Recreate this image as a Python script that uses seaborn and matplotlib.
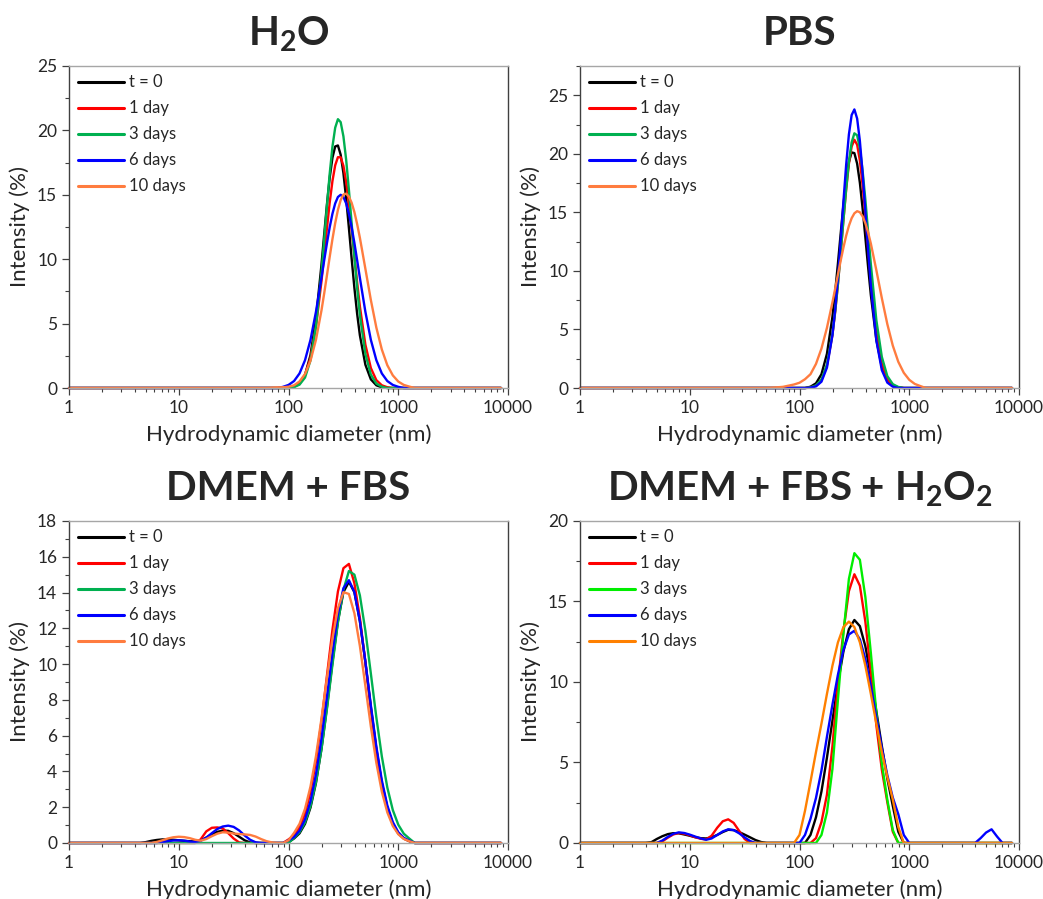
import numpy as np
import pandas as pd
import seaborn as sns
import matplotlib.pyplot as plt
from matplotlib.ticker import MultipleLocator, LogLocator, NullFormatter

sns.set_style('ticks')
plt.rcParams['font.family'] = ['Lato', 'DejaVu Sans']
plt.rcParams['mathtext.fontset'] = 'custom'
plt.rcParams['mathtext.rm'] = 'Lato'
plt.rcParams['mathtext.bf'] = 'Lato:bold'

# DLS size distributions, intensity (%)
time_labels = ['t = 0', '1 day', '3 days', '6 days', '10 days']

# diameter grid (nm) for water / PBS (finer around the peak)
size_top = [1.0, 50.1, 56.2, 63.1, 70.8, 79.4, 89.1, 100, 112.2, 125.9, 141.3, 158.5,
            177.8, 199.5, 211.3, 223.9, 237.1, 251.2, 266.1, 281.8, 298.5, 316.2, 335.0,
            354.8, 375.8, 398.1, 421.7, 446.7, 501.2, 562.3, 631.0, 707.9, 794.3, 891.3,
            1000, 1122, 1259, 1413, 8635]

h2o_t0 = [0, 0, 0, 0, 0, 0, 0, 0, 0.1, 0.34, 1.02, 2.56, 5.40, 9.57,
          11.94, 14.27, 16.32, 17.88, 18.75, 18.83, 18.11, 16.68, 14.70, 12.42, 10.04, 7.77, 5.76,
          4.09, 1.81, 0.67, 0.21, 0.05, 0, 0, 0, 0, 0, 0, 0]
h2o_1d = [0, 0, 0, 0, 0, 0, 0, 0, 0.12, 0.37, 1.01, 2.36, 4.76, 8.28,
          10.33, 12.42, 14.39, 16.07, 17.29, 17.92, 17.91, 17.25, 16.00, 14.31, 12.34, 10.25, 8.20,
          6.33, 3.37, 1.55, 0.61, 0.21, 0.06, 0, 0, 0, 0, 0, 0]
h2o_3d = [0, 0, 0, 0, 0, 0, 0, 0, 0.07, 0.26, 0.81, 2.15, 4.79, 8.98,
          11.52, 14.15, 16.64, 18.74, 20.21, 20.87, 20.64, 19.54, 17.71, 15.38, 12.78, 10.17, 7.75,
          5.66, 2.65, 1.04, 0.34, 0.10, 0, 0, 0, 0, 0, 0, 0]
h2o_6d = [0, 0, 0, 0, 0, 0, 0.09, 0.24, 0.54, 1.13, 2.16, 3.74, 5.92, 8.55,
          9.92, 11.26, 12.48, 13.53, 14.33, 14.83, 15.0, 14.83, 14.33, 13.53, 12.48, 11.26, 9.92,
          8.55, 5.92, 3.74, 2.16, 1.13, 0.54, 0.24, 0.09, 0, 0, 0, 0]
h2o_10d = [0, 0, 0, 0, 0.03, 0.05, 0.06, 0.1, 0.21, 0.51, 1.09, 2.12, 3.75, 6.02,
           7.35, 8.76, 10.18, 11.56, 12.80, 13.83, 14.59, 15.02, 15.09, 14.86, 14.38, 13.66, 12.73,
           11.66, 9.26, 6.83, 4.69, 2.99, 1.77, 0.98, 0.50, 0.24, 0.11, 0, 0]

pbs_t0 = [0, 0, 0, 0, 0, 0, 0, 0, 0, 0.11, 0.40, 1.18, 2.92, 6.08,
          8.21, 10.63, 13.17, 15.62, 17.75, 19.31, 20.12, 20.06, 19.16, 17.53, 15.34, 12.86, 10.33,
          7.94, 4.12, 1.80, 0.66, 0.20, 0.05, 0, 0, 0, 0, 0, 0]
pbs_1d = [0, 0, 0, 0, 0, 0, 0, 0, 0, 0.05, 0.20, 0.67, 1.92, 4.53,
          6.49, 8.85, 11.52, 14.31, 16.94, 19.14, 20.62, 21.20, 20.78, 19.43, 17.33, 14.75, 11.96,
          9.26, 4.81, 2.07, 0.74, 0.22, 0.05, 0, 0, 0, 0, 0, 0]
pbs_3d = [0, 0, 0, 0, 0, 0, 0, 0, 0, 0.05, 0.22, 0.72, 2.00, 4.61,
          6.55, 8.90, 11.55, 14.34, 17.02, 19.31, 20.97, 21.75, 21.58, 20.46, 18.55, 16.09, 13.33,
          10.57, 5.80, 2.66, 1.02, 0.33, 0.09, 0, 0, 0, 0, 0, 0]
pbs_6d = [0, 0, 0, 0, 0, 0, 0, 0, 0, 0.03, 0.14, 0.54, 1.74, 4.51,
          6.69, 9.43, 12.57, 15.90, 19.06, 21.65, 23.31, 23.79, 23.01, 21.10, 18.34, 15.10, 11.79,
          8.73, 4.07, 1.53, 0.46, 0.11, 0, 0, 0, 0, 0, 0, 0]
pbs_10d = [0, 0, 0.03, 0.06, 0.1, 0.2, 0.3, 0.45, 0.75, 1.18, 2.06, 3.37, 5.14, 7.31,
           8.48, 9.69, 10.87, 11.99, 13.0, 13.85, 14.50, 14.92, 15.10, 15.01, 14.66, 14.08, 13.29,
           12.33, 10.07, 7.68, 5.46, 3.62, 2.24, 1.30, 0.70, 0.35, 0.17, 0, 0]

# diameter grid (nm) for the culture media
size_fbs = [1.0, 3.98, 4.47, 5.01, 5.62, 6.31, 7.08, 7.94, 8.91, 10.0, 11.2, 12.6, 14.1,
            15.8, 17.8, 20.0, 22.4, 25.1, 28.2, 31.6, 35.5, 39.8, 44.7, 50.1, 56.2, 63.1,
            70.8, 79.4, 89.1, 100, 112.2, 125.9, 141.3, 158.5, 177.8, 199.5, 223.9, 251.2,
            281.8, 316.2, 354.8, 398.1, 446.7, 501.2, 562.3, 631.0, 707.9, 794.3, 891.3,
            1000, 1122, 1259, 1413, 8635]

fbs_t0 = [0, 0, 0, 0.05, 0.12, 0.17, 0.2, 0.2, 0.18, 0.15, 0.12, 0.10, 0.09, 0.15, 0.3,
          0.48, 0.62, 0.69, 0.68, 0.55, 0.35, 0.15, 0.03, 0, 0, 0, 0, 0, 0,
          0.05, 0.25, 0.54, 1.07, 1.98, 3.36, 5.26, 7.60, 10.11, 12.40, 14.02, 14.60, 14.02,
          12.40, 10.11, 7.60, 5.26, 3.36, 1.98, 1.07, 0.54, 0.25, 0.10, 0, 0]
fbs_1d = [0, 0, 0, 0, 0, 0, 0, 0, 0, 0, 0, 0, 0, 0.2, 0.65, 0.85, 0.87, 0.82, 0.55, 0.25,
          0.03, 0, 0, 0, 0, 0, 0, 0, 0,
          0.20, 0.43, 0.88, 1.64, 2.85, 4.57, 6.80, 9.36, 11.92, 14.06, 15.36, 15.6, 14.52,
          12.58, 10.09, 7.49, 5.15, 3.27, 1.93, 1.05, 0.53, 0.25, 0.11, 0, 0]
fbs_3d = [0, 0, 0, 0, 0, 0, 0, 0, 0, 0, 0, 0, 0, 0, 0, 0, 0, 0, 0, 0, 0, 0, 0, 0, 0, 0, 0,
          0, 0,
          0, 0.29, 0.60, 1.15, 2.06, 3.41, 5.24, 7.50, 9.96, 12.32, 14.15, 15.2, 15.00,
          13.84, 11.87, 9.47, 7.02, 4.84, 3.10, 1.84, 1.02, 0.52, 0.25, 0, 0]
fbs_6d = [0, 0, 0, 0, 0, 0, 0.05, 0.1, 0.14, 0.15, 0.13, 0.08, 0.06, 0.12, 0.3, 0.55, 0.78,
          0.92, 0.97, 0.9, 0.7, 0.42, 0.18, 0.04, 0, 0, 0, 0, 0,
          0.15, 0.33, 0.69, 1.32, 2.34, 3.84, 5.82, 8.17, 10.63, 12.79, 14.24, 14.69, 14.03,
          12.40, 10.15, 7.69, 5.39, 3.50, 2.10, 1.17, 0.60, 0.29, 0.13, 0, 0]
fbs_10d = [0, 0, 0, 0, 0, 0.06, 0.15, 0.25, 0.32, 0.35, 0.33, 0.27, 0.18, 0.13, 0.22, 0.38,
           0.52, 0.6, 0.58, 0.53, 0.5, 0.48, 0.45, 0.36, 0.22, 0.1, 0.03, 0, 0,
           0.15, 0.56, 1.07, 1.91, 3.16, 4.86, 6.95, 9.24, 11.42, 13.13, 14.02, 13.92, 12.84,
           11.01, 8.78, 6.51, 4.48, 2.87, 1.71, 0.95, 0.49, 0.23, 0.10, 0, 0]

# same grid plus the large-size range where one aggregate peak shows up
size_h2o2 = size_fbs[:-1] + [3548, 3981, 4467, 5012, 5623, 6310, 7079, 7943, 8635]

h2o2_t0 = [0, 0, 0.05, 0.25, 0.42, 0.55, 0.61, 0.6, 0.53, 0.45, 0.36, 0.3, 0.28, 0.35, 0.5,
           0.68, 0.82, 0.8, 0.68, 0.52, 0.35, 0.18, 0.06, 0, 0, 0, 0, 0, 0,
           0, 0, 0.5, 1.6, 3.2, 5.3, 7.6, 9.9, 11.89, 13.28, 13.85, 13.47, 12.22,
           10.35, 8.18, 6.03, 4.0, 2.3, 0.7, 0, 0, 0, 0, 0,
           0, 0, 0, 0, 0, 0, 0, 0, 0]
h2o2_1d = [0, 0, 0, 0, 0.1, 0.33, 0.53, 0.62, 0.58, 0.48, 0.36, 0.26, 0.22, 0.45, 0.95,
           1.35, 1.47, 1.25, 0.75, 0.25, 0, 0, 0, 0, 0, 0, 0, 0, 0,
           0, 0, 0, 0.3, 1.3, 3.0, 6.0, 9.9, 13.16, 15.64, 16.69, 15.98, 13.74,
           10.59, 7.33, 4.56, 2.54, 0.7, 0, 0, 0, 0, 0, 0,
           0, 0, 0, 0, 0, 0, 0, 0, 0]
h2o2_3d = [0, 0, 0, 0, 0, 0, 0, 0, 0, 0, 0, 0, 0, 0, 0, 0, 0, 0, 0, 0, 0, 0, 0, 0, 0, 0, 0,
           0, 0,
           0, 0, 0, 0, 0.5, 1.9, 4.6, 8.9, 13.0, 16.4, 18.0, 17.59, 15.28, 11.80,
           8.11, 4.95, 2.69, 0.8, 0, 0, 0, 0, 0, 0,
           0, 0, 0, 0, 0, 0, 0, 0, 0]
h2o2_6d = [0, 0, 0, 0, 0.15, 0.38, 0.57, 0.66, 0.62, 0.52, 0.4, 0.28, 0.2, 0.28, 0.5, 0.72,
           0.85, 0.8, 0.6, 0.35, 0.12, 0, 0, 0, 0, 0, 0, 0, 0,
           0, 0.5, 1.5, 2.8, 4.5, 6.6, 8.59, 10.45, 11.99, 12.95, 13.18, 12.65,
           11.43, 9.74, 7.81, 5.91, 4.21, 2.82, 1.79, 0.5, 0, 0, 0, 0,
           0, 0, 0.3, 0.65, 0.85, 0.4, 0, 0, 0]
h2o2_10d = [0, 0, 0, 0, 0, 0, 0, 0, 0, 0, 0, 0, 0, 0, 0, 0, 0, 0, 0, 0, 0, 0, 0, 0, 0, 0, 0,
            0, 0,
            0.5, 2.0, 3.8, 5.65, 7.42, 9.26, 11.01, 12.46, 13.41, 13.75, 13.41, 12.46, 11.01,
            9.26, 7.42, 5.65, 4.10, 2.7, 1.0, 0, 0, 0, 0, 0,
            0, 0, 0, 0, 0, 0, 0, 0, 0]

colors_a = ['#000000', '#ff0000', '#00b050', '#0000ff', '#ff7c3f']
colors_b = ['#000000', '#ff0000', '#00ee00', '#0000ff', '#ff8000']

panels = [
    (r'H$_\mathbf{2}$O', size_top, [h2o_t0, h2o_1d, h2o_3d, h2o_6d, h2o_10d], 25, 5, colors_a),
    ('PBS', size_top, [pbs_t0, pbs_1d, pbs_3d, pbs_6d, pbs_10d], 27.5, 5, colors_a),
    ('DMEM + FBS', size_fbs, [fbs_t0, fbs_1d, fbs_3d, fbs_6d, fbs_10d], 18, 2, colors_a),
    (r'DMEM + FBS + H$_\mathbf{2}$O$_\mathbf{2}$', size_h2o2,
     [h2o2_t0, h2o2_1d, h2o2_3d, h2o2_6d, h2o2_10d], 20, 5, colors_b),
]

fig = plt.figure(figsize=(10.43, 8.99), dpi=100)
boxes = [[0.0662, 0.5684, 0.4209, 0.3582], [0.5561, 0.5684, 0.4209, 0.3582],
         [0.0662, 0.0623, 0.4209, 0.3582], [0.5561, 0.0623, 0.4209, 0.3582]]

for box, (title, sizes, series, ymax, ystep, cols) in zip(boxes, panels):
    ax = fig.add_axes(box)
    frames = []
    for lab, vals in zip(time_labels, series):
        frames.append(pd.DataFrame({'size': sizes, 'intensity': vals, 'time': lab}))
    df = pd.concat(frames, ignore_index=True)
    ax.set_xscale('log')
    sns.lineplot(data=df, x='size', y='intensity', hue='time', hue_order=time_labels,
                 palette=cols, estimator=None, sort=False, lw=1.7, ax=ax, clip_on=False,
                 solid_joinstyle='round')

    ax.set_xlim(1, 10000)
    ax.set_ylim(0, ymax)
    ax.set_xticks([1, 10, 100, 1000, 10000])
    ax.set_xticklabels(['1', '10', '100', '1000', '10000'])
    ax.xaxis.set_minor_locator(LogLocator(base=10, subs=np.arange(2, 10)))
    ax.xaxis.set_minor_formatter(NullFormatter())
    ax.yaxis.set_major_locator(MultipleLocator(ystep))
    ax.yaxis.set_minor_locator(MultipleLocator(ystep / 2))
    ax.tick_params(which='major', direction='out', length=5, width=0.9, colors='#404040',
                   labelsize=12.5, labelcolor='#262626')
    ax.tick_params(which='minor', direction='out', length=3, width=0.8, colors='#404040')

    for side in ['left', 'right']:
        ax.spines[side].set_color('#404040')
    for side in ['top', 'bottom']:
        ax.spines[side].set_color('#a6a6a6')
    for sp in ax.spines.values():
        sp.set_linewidth(1.0)

    ax.set_xlabel('Hydrodynamic diameter (nm)', fontsize=16, color='#262626', labelpad=6)
    ax.set_ylabel('Intensity (%)', fontsize=16, color='#262626', labelpad=5)
    ax.set_title(title, fontsize=29, fontweight='bold', pad=15)

    old = ax.get_legend()
    handles = old.legend_handles
    for h in handles:
        h.set_linewidth(2.2)
    ax.legend(handles, time_labels, loc='upper left', bbox_to_anchor=(0.02, 0.974),
              frameon=False, fontsize=12, handlelength=2.8, handletextpad=0.25,
              labelspacing=0.6, borderpad=0, borderaxespad=0)

fig.savefig('out.png', dpi=100)
